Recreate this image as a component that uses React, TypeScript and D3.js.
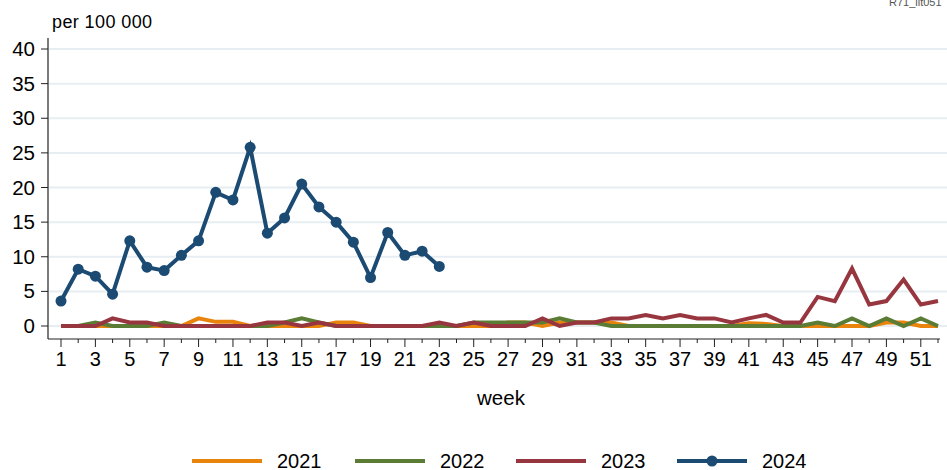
import { useEffect, useRef } from "react";
import * as d3 from "d3";

const weeks = d3.range(1, 53);
const weekLabels = weeks.filter((w) => w % 2 === 1);
const yTicks = [0, 5, 10, 15, 20, 25, 30, 35, 40];

const y2021 = [0, 0, 0, 0, 0, 0, 0, 0, 1.1, 0.6, 0.6, 0, 0, 0, 0, 0, 0.5, 0.5, 0, 0, 0, 0, 0, 0, 0, 0,
  0.5, 0.5, 0, 0.5, 0.5, 0.5, 0.5, 0, 0, 0, 0, 0, 0, 0, 0.4, 0.3, 0, 0, 0, 0, 0, 0, 0.5, 0.5, 0, 0];
const y2022 = [0, 0, 0.5, 0, 0, 0, 0.5, 0, 0, 0, 0, 0, 0, 0.5, 1.1, 0.5, 0, 0, 0, 0, 0, 0, 0, 0, 0.5, 0.5,
  0.5, 0.5, 0.5, 1.1, 0.5, 0.5, 0, 0, 0, 0, 0, 0, 0, 0, 0, 0, 0, 0, 0.5, 0, 1.1, 0, 1.1, 0, 1.1, 0];
const y2023 = [0, 0, 0, 1.1, 0.5, 0.5, 0, 0, 0, 0, 0, 0, 0.5, 0.5, 0, 0.5, 0, 0, 0, 0, 0, 0, 0.5, 0, 0.5, 0,
  0, 0, 1.1, 0, 0.5, 0.5, 1.1, 1.1, 1.6, 1.1, 1.6, 1.1, 1.1, 0.5, 1.1, 1.6, 0.5, 0.5, 4.2, 3.6, 8.3, 3.1, 3.6, 6.7, 3.1, 3.6];
const y2024 = [3.6, 8.2, 7.2, 4.6, 12.3, 8.5, 8.0, 10.2, 12.3, 19.3, 18.2, 25.8, 13.4, 15.6, 20.5, 17.2, 15.0,
  12.1, 7.0, 13.5, 10.2, 10.8, 8.6];

const seriesNames = ["2021", "2022", "2023", "2024"];
const seriesValues = [y2021, y2022, y2023, y2024];
const colors = ["#E8830C", "#5B7C34", "#983640", "#1B4A73"];

export default function App() {
  const ref = useRef<SVGSVGElement>(null);

  useEffect(() => {
    const svg = d3.select(ref.current);
    svg.selectAll("*").remove();

    const x = d3.scaleLinear().domain([1, 52]).range([61, 938]);
    const y = d3.scaleLinear().domain([0, 40]).range([326, 49]);
    const font = "Liberation Sans, Arial, sans-serif";

    // grid
    svg.append("g").selectAll("line").data(yTicks).join("line")
      .attr("x1", 49).attr("x2", 947)
      .attr("y1", (d) => y(d)).attr("y2", (d) => y(d))
      .attr("stroke", "#E6EEF2").attr("stroke-width", 2);

    // axes
    svg.append("line").attr("x1", 48).attr("x2", 48).attr("y1", 38).attr("y2", 339)
      .attr("stroke", "#222").attr("stroke-width", 1.2);
    svg.append("line").attr("x1", 48).attr("x2", 940).attr("y1", 339).attr("y2", 339)
      .attr("stroke", "#222").attr("stroke-width", 1.2);

    svg.append("g").selectAll("line").data(yTicks).join("line")
      .attr("x1", 41).attr("x2", 48)
      .attr("y1", (d) => y(d)).attr("y2", (d) => y(d))
      .attr("stroke", "#222");
    svg.append("g").selectAll("text").data(yTicks).join("text")
      .attr("x", 35).attr("y", (d) => y(d) + 7)
      .attr("text-anchor", "end").attr("font-family", font).attr("font-size", 20.5)
      .text((d) => d);

    svg.append("g").selectAll("line").data(weeks).join("line")
      .attr("x1", (d) => x(d)).attr("x2", (d) => x(d))
      .attr("y1", 339).attr("y2", (d) => (d % 2 === 1 ? 347 : 343))
      .attr("stroke", "#222");
    svg.append("g").selectAll("text").data(weekLabels).join("text")
      .attr("x", (d) => x(d)).attr("y", 366)
      .attr("text-anchor", "middle").attr("font-family", font).attr("font-size", 20)
      .text((d) => d);

    svg.append("text").attr("x", 501).attr("y", 405).attr("text-anchor", "middle")
      .attr("font-family", font).attr("font-size", 20.5).text("week");
    svg.append("text").attr("x", 52).attr("y", 28)
      .attr("font-family", font).attr("font-size", 18).attr("letter-spacing", 0.4).text("per 100 000");
    svg.append("text").attr("x", 889).attr("y", 6)
      .attr("font-family", font).attr("font-size", 11).attr("fill", "#555").text("R71_ilt051");

    const line = d3.line<number>().x((d, i) => x(weeks[i])).y((d) => y(d));

    seriesValues.forEach((vals, k) => {
      svg.append("path").datum(vals)
        .attr("d", line)
        .attr("fill", "none").attr("stroke", colors[k]).attr("stroke-width", 4)
        .attr("stroke-linejoin", "miter");
    });

    svg.append("g").selectAll("circle").data(y2024).join("circle")
      .attr("cx", (d, i) => x(weeks[i])).attr("cy", (d) => y(d))
      .attr("r", 5.5).attr("fill", colors[3]);

    // legend
    const legX = [192, 355, 516, 677];
    const lg = svg.append("g").selectAll("g").data(seriesNames).join("g")
      .attr("transform", (d, i) => `translate(${legX[i]},461)`);
    lg.append("line").attr("x1", 0).attr("x2", 70).attr("y1", 0).attr("y2", 0)
      .attr("stroke", (d, i) => colors[i]).attr("stroke-width", 4);
    lg.filter((d, i) => i === 3).append("circle").attr("cx", 35).attr("cy", 0).attr("r", 5.5)
      .attr("fill", colors[3]);
    lg.append("text").attr("x", 85).attr("y", 7)
      .attr("font-family", font).attr("font-size", 20).text((d) => d);
  }, []);

  return (
    <svg ref={ref} width={947} height={470} style={{ position: "absolute", left: 0, top: 0 }} />
  );
}
